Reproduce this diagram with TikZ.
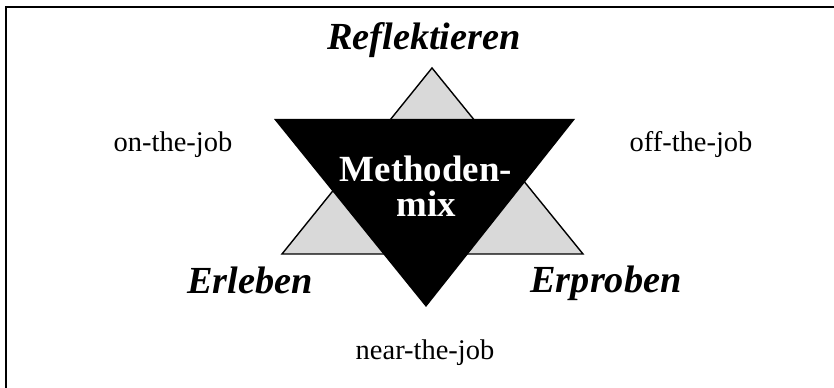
\documentclass[tikz,border=0pt]{standalone}
\usepackage{fontspec}
\setmainfont{Liberation Serif}
\tikzset{
  frame line/.style={
    line width=0.6pt
  },
  base triangle/.style={
    draw=black,
    line width=0.4pt,
    fill=black!15
  },
  mix triangle/.style={
    fill=black
  },
  pole label/.style={
    font=\fontsize{10.9}{12}\selectfont\bfseries\itshape,
    anchor=base,
    inner sep=0pt
  },
  job label/.style={
    font=\fontsize{8.1}{10}\selectfont,
    anchor=base,
    inner sep=0pt
  },
  mix label/.style={
    font=\fontsize{10.5}{9.8}\selectfont\bfseries,
    text=white,
    align=center,
    inner sep=0pt
  }
}

\begin{document}
\begin{tikzpicture}

    \useasboundingbox (0,0) rectangle (8.34,3.88);

    % Rahmen
    \draw[frame line] (0.06,0) -- (0.06,3.81) -- (8.34,3.81);

    % ---------- Dreiecke ----------
    \path[base triangle]
      (4.32,3.20) -- (5.83,1.34) -- (2.82,1.34) -- cycle;
    \path[mix triangle]
      (2.74,2.69) -- (5.75,2.69) -- (4.26,0.81) -- cycle;

    \node[mix label] (mix) at (4.26,2.02) {Methoden-\\mix};

    % ---------- Ecken ----------
    \node[pole label] (reflektieren) at (4.24,3.38) {Reflektieren};
    \node[pole label] (erleben) at (2.50,0.94) {Erleben};
    \node[pole label] (erproben) at (6.06,0.95) {Erproben};

    % ---------- Lernorte ----------
    \node[job label] (onjob) at (1.73,2.36) {on-the-job};
    \node[job label] (offjob) at (6.91,2.36) {off-the-job};
    \node[job label] (nearjob) at (4.25,0.28) {near-the-job};

\end{tikzpicture}
\end{document}
